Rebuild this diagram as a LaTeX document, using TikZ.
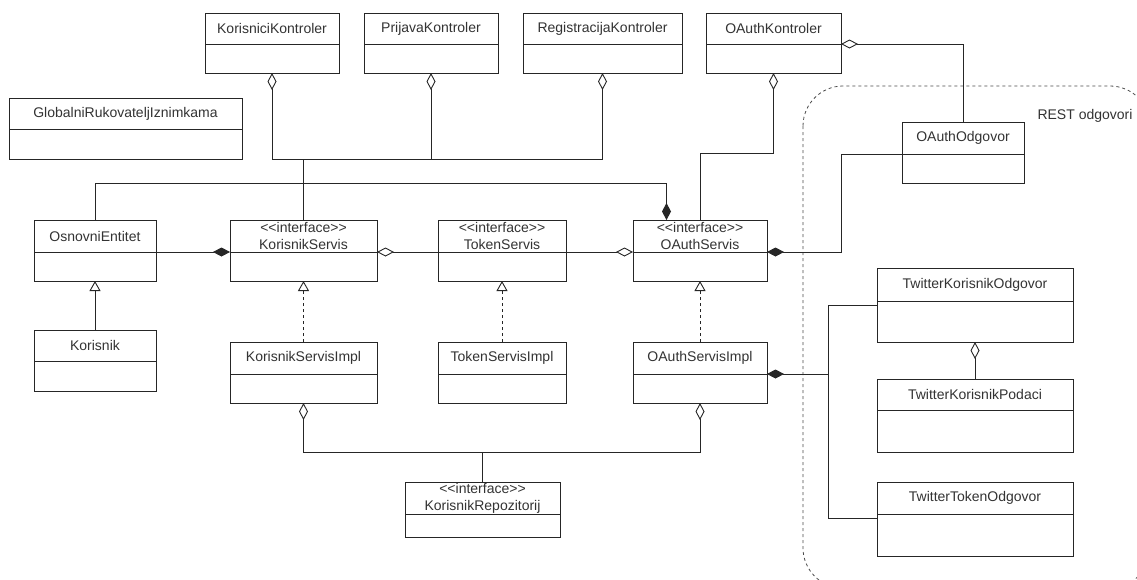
\documentclass[tikz,border=0pt]{standalone}
\usepackage{fontspec}
\newfontfamily\umlfont{Liberation Sans}
\usetikzlibrary{positioning,arrows.meta,calc}

\begin{document}
\begin{tikzpicture}[x=1pt,y=1pt,
  zaglavlje/.style={draw=black!85, line width=0.9pt, inner sep=0pt, outer sep=0pt,
    text=black!80, align=center, font={\umlfont\fontsize{14}{17}\selectfont}},
  tijelo/.style={draw=black!85, line width=0.9pt, inner sep=0pt, outer sep=0pt},
  veza/.style={draw=black!85, line width=0.9pt},
  agregacija/.style={veza, -{Diamond[open, length=17pt, width=9pt]}},
  kompozicija/.style={veza, -{Diamond[length=17pt, width=9pt]}},
  nasljedivanje/.style={veza, -{Triangle[open, length=10pt, width=11pt]}},
  realizacija/.style={nasljedivanje, dashed}]

\fill[white] (0,0) rectangle (1137,-579);
\useasboundingbox (0,0) rectangle (1137,-579);

% grupa REST odgovori
\begin{scope}
\clip (0,0) rectangle (1137,-579);
\draw[dashed, black!70, line width=0.8pt, rounded corners=40pt] (803,-86) rectangle (1150,-588);
\end{scope}
\node[text=black!80, font={\umlfont\fontsize{14}{17}\selectfont}] (restNaslov) at (1085,-116) {REST odgovori};

% klase: ime / x / y / sirina / zaglavlje / tijelo / tekst
\foreach \ime/\x/\y/\w/\hz/\hb/\tekst in {
  korKontroler/205/13/134/31/29/{KorisniciKontroler},
  prijKontroler/364/13/134/31/29/{PrijavaKontroler},
  regKontroler/523/13/159/31/29/{RegistracijaKontroler},
  oaKontroler/706/13/135/31/29/{OAuthKontroler},
  globalni/9/98/233/31/30/{GlobalniRukovateljIznimkama},
  osnovni/34/220/122/32/29/{OsnovniEntitet},
  korServis/230/220/147/32/29/{<<interface>>\\KorisnikServis},
  tokServis/438/220/128/32/29/{<<interface>>\\TokenServis},
  oaServis/633/220/134/32/29/{<<interface>>\\OAuthServis},
  korisnik/34/330/122/31/30/{Korisnik},
  korImpl/230/342/147/32/29/{KorisnikServisImpl},
  tokImpl/438/342/128/32/29/{TokenServisImpl},
  oaImpl/633/342/134/32/29/{OAuthServisImpl},
  repo/405/482/155/32/23/{<<interface>>\\KorisnikRepozitorij},
  oaOdgovor/902/122/122/32/29/{OAuthOdgovor},
  twKorOdg/877/268/196/33/41/{TwitterKorisnikOdgovor},
  twPodaci/877/379/196/31/42/{TwitterKorisnikPodaci},
  twToken/877/482/196/32/42/{TwitterTokenOdgovor}} {
  \node[zaglavlje, minimum width=\w pt, minimum height=\hz pt, anchor=north west] (\ime) at (\x,-\y) {\tekst};
  \node[tijelo, minimum width=\w pt, minimum height=\hb pt, below=0pt of \ime] (\ime-t) {};
}

% kontroleri
\foreach \k in {korKontroler,prijKontroler,regKontroler}
  \draw[agregacija] (korServis.north) -- ++(0,61) -| (\k-t.south);
\draw[agregacija] (oaServis.north) -- ++(0,67) -| (oaKontroler-t.south);
\draw[agregacija] (oaOdgovor.north) |- (oaKontroler.south east);
\draw[kompozicija] (oaOdgovor.south west) -- ++(-61,0) |- (oaServis.south east);
\draw[kompozicija] (osnovni.north) -- ++(0,37) -| ($(oaServis.north west)!.25!(oaServis.north east)$);

% servisi
\draw[kompozicija] (osnovni.south east) -- (korServis.south west);
\draw[agregacija] (tokServis.south west) -- (korServis.south east);
\draw[agregacija] (tokServis.south east) -- (oaServis.south west);
\draw[nasljedivanje] (korisnik.north) -- (osnovni-t.south);
\draw[realizacija] (korImpl.north) -- (korServis-t.south);
\draw[realizacija] (tokImpl.north) -- (tokServis-t.south);
\draw[realizacija] (oaImpl.north) -- (oaServis-t.south);

% repozitorij
\draw[agregacija] (repo.north) -- ++(0,30) -| (korImpl-t.south);
\draw[agregacija] (repo.north) -- ++(0,30) -| (oaImpl-t.south);

% twitter odgovori
\coordinate (racva) at ($(oaImpl.south east)+(61,0)$);
\draw[kompozicija] ([yshift=-4pt]twKorOdg.south west) -| (racva) -- (oaImpl.south east);
\draw[veza] ([yshift=-4pt]twToken.south west) -| (racva);
\draw[agregacija] (twPodaci.north) -- (twKorOdg-t.south);

\end{tikzpicture}
\end{document}
